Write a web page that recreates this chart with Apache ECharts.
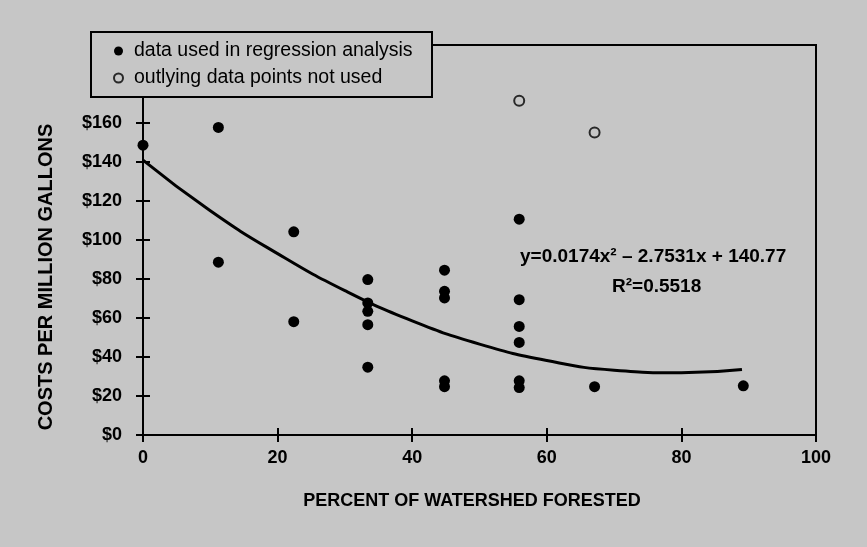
<!DOCTYPE html>
<html>
<head>
<meta charset="utf-8">
<script src="https://cdn.jsdelivr.net/npm/echarts@6/dist/echarts.min.js"></script>
<style>
html,body{margin:0;padding:0;background:#c6c6c6;}
#chart{width:867px;height:547px;}
</style>
</head>
<body>
<div id="chart"></div>
<script>
// Data
const usedX = [0, 11.2, 11.2, 22.4, 22.4, 33.4, 33.4, 33.4, 33.4, 33.4, 44.8, 44.8, 44.8, 44.8, 44.8, 55.9, 55.9, 55.9, 55.9, 55.9, 55.9, 67.1, 89.2];
const usedY = [148.6, 157.7, 88.6, 104.2, 58.1, 79.7, 67.7, 63.4, 56.6, 34.8, 84.5, 73.7, 70.3, 27.8, 24.8, 110.7, 69.4, 55.7, 47.5, 27.8, 24.3, 24.8, 25.2];
const outX = [55.9, 67.1];
const outY = [171.4, 155.1];
const trendX = [0, 10, 20, 30, 40, 50, 60, 70, 80, 89];
const trendY = [141, 115, 93, 74, 58.5, 46.6, 38.2, 33.2, 31.9, 33.6];
const xTicks = [0, 20, 40, 60, 80, 100];
const yTickLabels = ['$0', '$20', '$40', '$60', '$80', '$100', '$120', '$140', '$160'];
const seriesNames = ['data used in regression analysis', 'outlying data points not used'];
const xTitle = 'PERCENT OF WATERSHED FORESTED';
const yTitle = 'COSTS PER MILLION GALLONS';
const equationText = 'y=0.0174x² – 2.7531x + 140.77';
const r2Text = 'R²=0.5518';

const FONT = "'Liberation Sans', Arial, Helvetica, sans-serif";
const chart = echarts.init(document.getElementById('chart'));

const zip = (xs, ys) => xs.map((x, i) => [x, ys[i]]);

chart.setOption({
  backgroundColor: '#c6c6c6',
  animation: false,
  textStyle: { fontFamily: FONT, color: '#000' },
  grid: {
    left: 143, right: 51, top: 45, bottom: 112,
    show: true, borderColor: '#000', borderWidth: 2, backgroundColor: 'transparent'
  },
  legend: {
    orient: 'vertical',
    left: 91, top: 32,
    data: seriesNames,
    backgroundColor: '#c6c6c6',
    borderColor: '#000', borderWidth: 2,
    padding: [9, 10, 9, 22],
    itemGap: 7,
    itemWidth: 9, itemHeight: 9,
    icon: 'circle',
    textStyle: { fontFamily: FONT, fontSize: 19.5, color: '#000', width: 288, lineHeight: 20, padding: [0, 0, 0, 6] },
    z: 10
  },
  xAxis: [{
    type: 'value', min: 0, max: 100, interval: 20,
    axisLine: { show: true, onZero: false, lineStyle: { color: '#000', width: 2 } },
    axisTick: { show: true, length: 7, lineStyle: { color: '#000', width: 2 } },
    axisLabel: {
      fontFamily: FONT, fontSize: 18, fontWeight: 'bold', color: '#000', margin: 14,
      formatter: v => xTicks.includes(v) ? String(v) : ''
    },
    splitLine: { show: false }
  }, {
    type: 'value', min: 0, max: 100, interval: 20, position: 'bottom',
    axisLine: { show: false },
    axisTick: { show: true, inside: true, length: 7, lineStyle: { color: '#000', width: 2 } },
    axisLabel: { show: false },
    splitLine: { show: false }
  }],
  yAxis: [{
    type: 'value', min: 0, max: 200, interval: 20,
    axisLine: { show: true, onZero: false, lineStyle: { color: '#000', width: 2 } },
    axisTick: { show: true, length: 7, lineStyle: { color: '#000', width: 2 } },
    axisLabel: {
      fontFamily: FONT, fontSize: 18, fontWeight: 'bold', color: '#000', margin: 21,
      formatter: v => yTickLabels[v / 20] || ''
    },
    splitLine: { show: false }
  }, {
    type: 'value', min: 0, max: 200, interval: 20, position: 'left',
    axisLine: { show: false },
    axisTick: { show: true, inside: true, length: 7, lineStyle: { color: '#000', width: 2 } },
    axisLabel: { show: false },
    splitLine: { show: false }
  }],
  graphic: [
    {
      type: 'text', x: 46, y: 277, rotation: Math.PI / 2,
      style: { text: yTitle, fontFamily: FONT, fontSize: 20, fontWeight: 'bold', fill: '#000', align: 'center', verticalAlign: 'middle' }
    },
    {
      type: 'text', x: 472, y: 501,
      style: { text: xTitle, fontFamily: FONT, fontSize: 18, fontWeight: 'bold', fill: '#000', align: 'center', verticalAlign: 'middle' }
    },
    {
      type: 'text', x: 520, y: 257,
      style: { text: equationText, fontFamily: FONT, fontSize: 19, fontWeight: 'bold', fill: '#000', align: 'left', verticalAlign: 'middle' }
    },
    {
      type: 'text', x: 612, y: 287,
      style: { text: r2Text, fontFamily: FONT, fontSize: 19, fontWeight: 'bold', fill: '#000', align: 'left', verticalAlign: 'middle' }
    }
  ],
  series: [
    {
      name: 'trend', type: 'line', smooth: true, showSymbol: false, symbol: 'none',
      data: zip(trendX, trendY),
      lineStyle: { color: '#000', width: 3 },
      z: 2
    },
    {
      name: seriesNames[0], type: 'scatter', symbol: 'circle', symbolSize: 11,
      data: zip(usedX, usedY),
      itemStyle: { color: '#000', opacity: 1 },
      z: 3
    },
    {
      name: seriesNames[1], type: 'scatter', symbol: 'circle', symbolSize: 10,
      data: zip(outX, outY),
      itemStyle: { color: 'rgba(0,0,0,0)', borderColor: '#000', borderWidth: 2 },
      z: 3
    }
  ]
});
</script>
</body>
</html>
